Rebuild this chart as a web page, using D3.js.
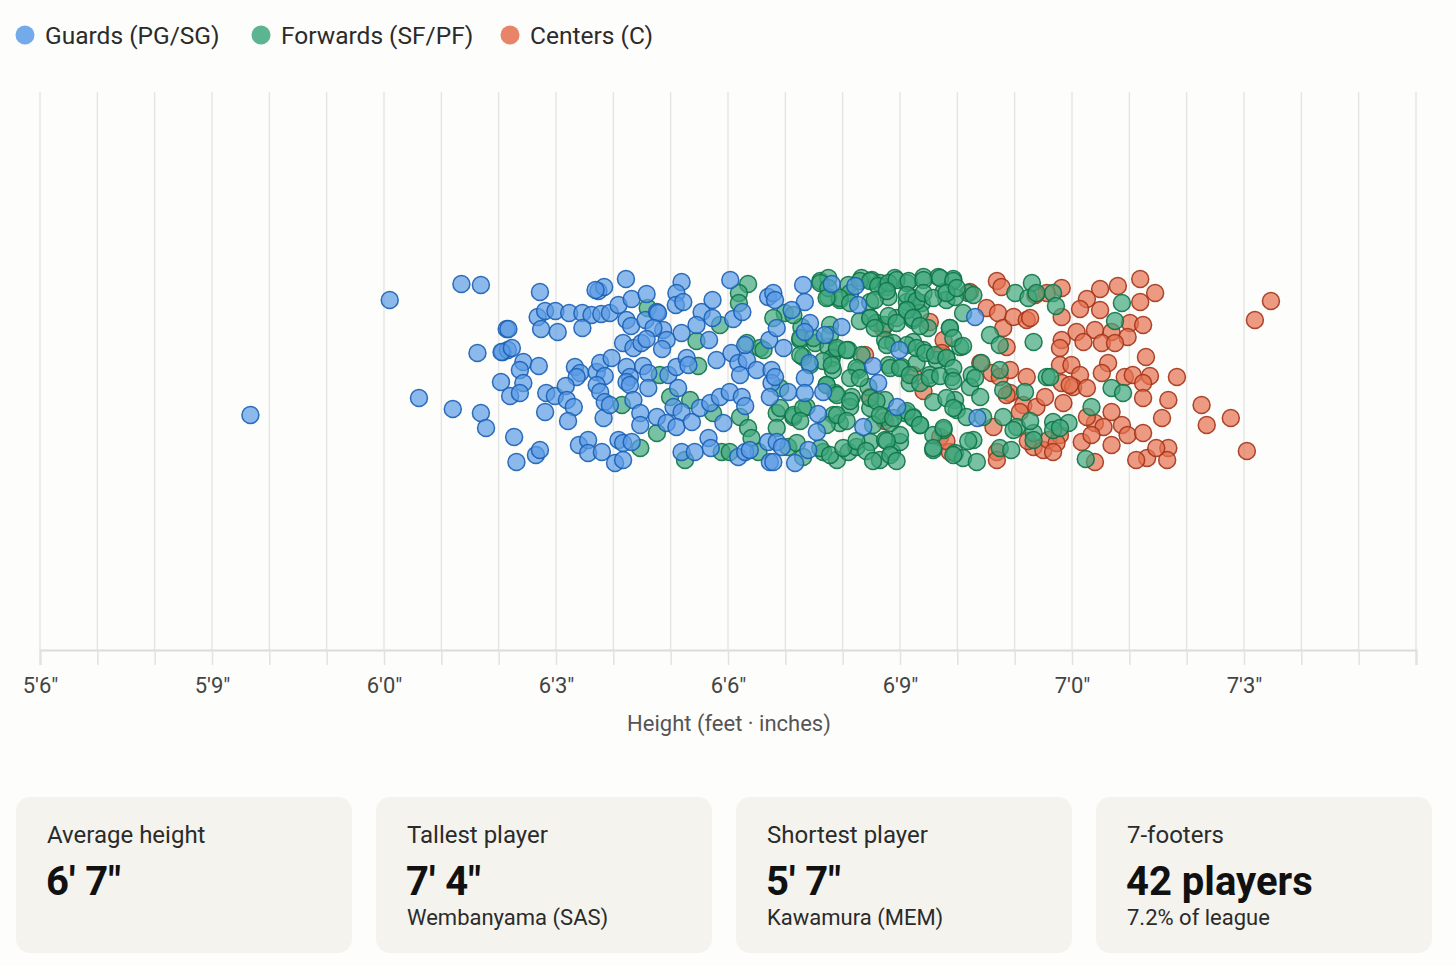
<!DOCTYPE html>
<html>
<head>
<meta charset="utf-8">
<script src="https://cdn.jsdelivr.net/npm/d3@7"></script>
<style>
  html, body { margin: 0; padding: 0; background: #fdfdfc; }
  svg { display: block; font-family: Roboto, "Noto Sans", sans-serif; }
</style>
</head>
<body>
<svg id="chart"></svg>
<script>
// heights in inches, jitter in [-1, 1]
var guards = [
  [69.67,-0.45],[72.10,0.70],[73.35,0.86],[73.69,0.85],[74.14,0.41],[73.63,0.17],[74.07,0.18],[74.16,0.20],
  [74.04,-0.12],[74.20,-0.26],[72.61,-0.28],[73.20,-0.39],[73.69,-0.43],[73.78,-0.58],[74.27,-0.67],[74.31,-0.92],
  [74.72,0.78],[76.22,0.91],[75.74,0.79],[75.84,0.83],[75.69,0.80],[77.19,0.88],[77.10,0.77],[78.04,0.90],
  [74.17,0.41],[74.68,0.53],[74.81,0.59],[74.99,0.59],[75.23,0.57],[75.46,0.57],[75.62,0.55],[75.79,0.56],
  [75.94,0.57],[76.09,0.65],[76.32,0.71],[76.58,0.76],[74.74,0.41],[75.03,0.38],[75.46,0.42],[76.23,0.50],
  [76.31,0.44],[76.56,0.50],[76.76,0.58],[76.78,0.57],[77.09,0.65],[77.22,0.68],[77.54,0.58],[77.73,0.70],
  [77.73,0.52],[78.09,0.51],[78.25,0.58],[78.70,0.73],[78.79,0.77],[77.45,0.45],[77.19,0.37],[76.87,0.40],
  [76.93,0.30],[76.70,0.42],[77.67,0.30],[76.17,0.27],[76.35,0.22],[76.49,0.27],[76.58,0.31],[76.85,0.21],
  [74.05,0.18],[74.23,0.22],[74.43,0.08],[74.37,0.00],[74.70,0.04],[75.33,0.03],[75.42,-0.03],[75.36,-0.07],
  [75.71,-0.02],[75.77,0.07],[75.97,0.12],[75.85,-0.06],[76.23,0.03],[76.29,-0.07],[76.52,0.04],[76.61,-0.03],
  [76.96,-0.05],[77.10,0.03],[77.28,0.12],[77.31,0.05],[77.80,0.10],[78.06,0.17],[78.18,0.07],[78.33,0.10],
  [78.50,0.00],[78.21,-0.05],[78.30,0.25],[78.72,0.30],[78.76,0.00],[78.76,-0.13],[78.73,-0.27],[74.43,-0.13],
  [74.37,-0.23],[74.83,-0.23],[74.98,-0.26],[75.17,-0.16],[75.19,-0.30],[75.31,-0.37],[75.21,-0.51],[74.81,-0.42],
  [75.71,-0.15],[75.77,-0.22],[75.85,-0.32],[75.83,-0.48],[75.94,-0.35],[76.23,-0.12],[76.29,-0.15],[76.35,-0.30],
  [76.47,-0.43],[76.47,-0.55],[76.61,-0.18],[76.76,-0.47],[77.13,-0.18],[77.05,-0.37],[77.19,-0.42],[76.93,-0.53],
  [77.10,-0.57],[77.37,-0.52],[77.51,-0.38],[77.69,-0.33],[77.86,-0.27],[77.92,-0.53],[78.03,-0.22],[78.24,-0.27],
  [78.30,-0.36],[74.65,-0.85],[74.72,-0.80],[75.40,-0.75],[75.56,-0.70],[75.56,-0.83],[75.80,-0.82],[76.03,-0.93],
  [76.09,-0.70],[76.17,-0.73],[76.17,-0.90],[76.32,-0.72],[77.19,-0.82],[77.42,-0.82],[77.66,-0.68],[77.70,-0.78],
  [78.18,-0.87],[78.30,-0.82],[78.38,-0.80],[78.73,-0.92],[78.70,-0.72],[78.85,-0.72],[78.82,0.70],[79.31,0.85],
  [79.34,0.68],[79.81,0.86],[80.22,0.84],[80.27,0.65],[79.11,0.60],[78.85,0.42],[78.97,0.22],[79.43,0.47],
  [79.34,0.38],[79.69,0.35],[79.98,0.43],[80.99,0.20],[79.42,0.07],[79.34,-0.08],[80.53,0.04],[80.62,-0.13],
  [78.82,-0.07],[79.05,-0.22],[79.34,-0.23],[79.66,-0.22],[82.31,0.53],[80.95,-0.37],[80.36,-0.57],[79.57,-0.44],
  [79.55,-0.62],[79.40,-0.80],[79.17,-0.93],[78.94,-0.77],[78.79,-0.92],[82.35,-0.48]
];

var forwards = [
  [78.35,0.86],[78.19,0.77],[78.19,0.67],[77.86,0.45],[76.60,0.62],[77.45,0.29],[78.33,0.27],[78.56,0.22],
  [76.81,-0.05],[77.48,0.04],[76.15,-0.35],[76.76,-0.63],[76.99,-0.27],[77.34,-0.30],[77.74,-0.43],[78.21,-0.47],
  [78.35,-0.58],[78.41,-0.68],[76.47,-0.78],[77.25,-0.90],[77.89,-0.82],[78.03,-0.82],[78.53,-0.82],
  [79.61,0.89],[79.75,0.92],[80.10,0.85],[80.33,0.92],[80.51,0.90],[80.65,0.87],[80.77,0.83],[80.91,0.92],
  [81.12,0.87],[81.41,0.93],[81.67,0.93],[81.93,0.91],[82.19,0.77],[83.01,0.77],[83.30,0.87],[83.24,0.72],
  [83.38,0.77],[79.75,0.73],[79.95,0.70],[80.13,0.77],[80.48,0.68],[80.80,0.73],[81.12,0.68],[81.23,0.72],
  [81.38,0.67],[81.76,0.78],[81.81,0.70],[81.96,0.73],[82.10,0.57],[78.99,0.57],[79.28,0.43],[79.78,0.45],
  [80.48,0.52],[80.59,0.47],[80.74,0.45],[80.94,0.52],[81.12,0.60],[81.23,0.50],[81.35,0.57],[81.49,0.42],
  [81.87,0.42],[79.26,0.30],[79.52,0.27],[79.75,0.23],[79.90,0.20],[80.10,0.20],[80.74,0.30],[80.88,0.27],
  [81.23,0.28],[81.41,0.20],[81.64,0.10],[81.81,0.12],[82.05,0.23],[82.57,0.35],[82.74,0.25],[83.33,0.28],
  [79.31,0.13],[79.81,0.12],[79.83,0.00],[80.33,0.15],[80.27,0.00],[80.80,0.05],[81.03,0.03],[81.29,0.07],
  [81.52,-0.05],[81.90,-0.07],[82.25,-0.05],[82.42,0.07],[82.74,0.00],[78.91,-0.18],[79.72,-0.15],[79.87,-0.23],
  [80.16,-0.27],[80.45,-0.17],[80.74,-0.30],[81.17,-0.13],[81.58,-0.32],[81.96,-0.30],[82.22,-0.17],[82.40,-0.27],
  [82.80,-0.20],[83.18,-0.22],[83.56,-0.07],[78.85,-0.43],[79.14,-0.47],[79.37,-0.37],[79.84,-0.45],[79.95,-0.53],
  [80.13,-0.37],[80.48,-0.38],[80.71,-0.47],[80.83,-0.53],[81.09,-0.43],[81.23,-0.47],[81.35,-0.55],[81.76,-0.60],
  [81.99,-0.40],[82.16,-0.47],[82.45,-0.47],[82.80,-0.47],[83.04,-0.57],[83.33,-0.63],[79.05,-0.77],[79.20,-0.73],
  [79.31,-0.87],[79.66,-0.82],[79.90,-0.90],[80.10,-0.82],[80.24,-0.77],[80.48,-0.72],[80.74,-0.70],[80.86,-0.82],
  [80.65,-0.90],[81.00,-0.72],[81.58,-0.80],[81.96,-0.83],[82.10,-0.88],[82.28,-0.70],[82.34,-0.92],[82.74,-0.78],
  [82.94,-0.80],[83.33,-0.70],[83.67,0.77],[83.72,0.64],[84.87,0.67],[84.75,0.49],[83.62,-0.07],[84.69,-0.18],
  [84.89,-0.23],[84.34,-0.37],[83.67,-0.52],[83.94,-0.53],[83.67,-0.60],[84.24,-0.89],
  [79.61,0.87],[79.75,0.82],[79.95,0.72],[80.30,0.89],[80.48,0.89],[80.62,0.84],[80.80,0.87],[80.94,0.90],
  [81.15,0.89],[81.41,0.90],[81.70,0.92],[81.93,0.89],[79.72,0.72],[80.13,0.67],[80.56,0.70],[80.77,0.79],
  [81.12,0.75],[81.29,0.69],[81.41,0.77],[81.58,0.72],[81.81,0.77],[81.99,0.82],[78.79,0.52],[79.14,0.55],
  [79.26,0.32],[79.49,0.32],[79.78,0.35],[79.90,0.22],[80.07,0.20],[80.30,0.49],[80.48,0.52],[80.56,0.42],
  [80.80,0.54],[80.94,0.47],[81.12,0.60],[81.23,0.52],[81.35,0.44],[81.87,0.42],[81.93,0.32],[78.62,0.20],
  [79.26,0.15],[79.43,0.05],[79.66,0.09],[79.81,0.05],[80.24,0.02],[80.77,0.25],[81.12,0.25],[81.29,0.22],
  [81.44,0.17],[81.61,0.15],[81.81,0.12],[80.13,-0.08],[80.30,-0.08],[80.83,0.02],[81.00,0.02],[81.17,-0.05],
  [81.35,-0.13],[81.52,-0.08],[81.70,-0.06],[81.93,0.02],[81.93,-0.11],[78.91,-0.38],[79.14,-0.45],[79.31,-0.38],
  [79.72,-0.15],[79.90,-0.25],[80.13,-0.31],[80.48,-0.28],[80.59,-0.31],[81.12,-0.41],[81.23,-0.48],[81.35,-0.55],
  [81.81,-0.28],[81.93,-0.38],[78.85,-0.58],[79.26,-0.51],[79.72,-0.55],[79.90,-0.45],[80.07,-0.51],[80.53,-0.55],
  [80.65,-0.45],[80.88,-0.48],[81.00,-0.65],[81.58,-0.65],[81.76,-0.58],[79.61,-0.78],[79.78,-0.85],[80.01,-0.78],
  [80.24,-0.71],[80.41,-0.81],[80.53,-0.91],[80.77,-0.71],[80.83,-0.85],[80.94,-0.91],[81.58,-0.78],[81.93,-0.85],
  [82.28,0.75],[82.10,0.24],[82.31,-0.08],[83.27,-0.51],[83.79,-0.58],[82.98,-0.60],[82.19,-0.71]
];

var centers = [
  [81.52,0.48],[81.76,0.30],[80.48,-0.27],[80.39,0.15],[81.23,-0.05],[81.70,-0.67],[81.87,-0.82],[82.22,0.78],
  [82.69,0.89],[82.77,0.83],[82.51,0.62],[82.71,0.57],[82.80,0.42],[82.98,0.53],[83.21,0.50],[82.86,0.23],
  [82.40,0.07],[82.60,-0.03],[82.74,-0.07],[82.92,0.00],[83.21,-0.07],[82.92,-0.23],[83.15,-0.35],[83.09,-0.42],
  [83.38,-0.37],[83.53,-0.27],[82.63,-0.57],[82.69,-0.82],[82.69,-0.90],[83.33,-0.77],[83.50,-0.80],[83.59,-0.70],
  [83.82,0.82],[83.56,0.77],[84.49,0.81],[84.80,0.84],[85.19,0.91],[85.45,0.77],[85.19,0.68],[84.26,0.71],
  [84.14,0.61],[84.49,0.60],[83.82,0.53],[85.01,0.47],[85.24,0.45],[84.69,0.38],[84.40,0.40],[84.08,0.38],
  [84.97,0.33],[84.20,0.28],[84.52,0.27],[84.75,0.27],[83.82,0.30],[83.79,0.22],[85.29,0.13],[83.79,0.05],
  [83.99,0.05],[84.14,-0.05],[84.63,0.07],[84.52,-0.03],[84.92,-0.07],[85.06,-0.05],[85.36,-0.06],[85.83,-0.07],
  [83.82,-0.13],[84.02,-0.17],[84.26,-0.18],[85.24,-0.13],[83.85,-0.33],[85.24,-0.28],[85.68,-0.30],[86.26,-0.35],
  [86.35,-0.55],[86.77,-0.48],[84.69,-0.42],[84.40,-0.53],[84.26,-0.47],[84.55,-0.57],[84.87,-0.55],[85.57,-0.48],
  [84.97,-0.65],[85.24,-0.63],[83.79,-0.65],[83.73,-0.73],[83.67,-0.82],[84.17,-0.72],[84.34,-0.65],[84.69,-0.75],
  [85.68,-0.78],[85.31,-0.88],[85.66,-0.90],[84.40,-0.92],[87.05,-0.81],[87.47,0.69],[87.19,0.50],
  [83.36,0.75],[83.27,0.52],[83.96,-0.15],[83.23,-0.71],[85.12,-0.90],[85.47,-0.78],[80.70,0.42],[81.73,0.17],
  [81.41,-0.21],[80.74,-0.51],[81.81,-0.71],[82.86,-0.25]
];

var groupNames = ["Guards (PG/SG)", "Forwards (SF/PF)", "Centers (C)"];
var groupFill = ["#5b9be6", "#3fa77c", "#e4704f"];
var groupStroke = ["#1a5fb4", "#0d7347", "#a3341a"];

var labelTicks = [66, 69, 72, 75, 78, 81, 84, 87];
var axisTitle = "Height (feet · inches)";

var cardTitles = ["Average height", "Tallest player", "Shortest player", "7-footers"];
var cardValues = ["6′ 7″", "7′ 4″", "5′ 7″", "42 players"];
var cardNotes = ["", "Wembanyama (SAS)", "Kawamura (MEM)", "7.2% of league"];

var width = 1456, height = 965;
var svg = d3.select("#chart").attr("width", width).attr("height", height);

var x = d3.scaleLinear().domain([66, 90]).range([40, 1416]);
var y = d3.scaleLinear().domain([-1, 1]).range([470, 270]);
var plotTop = 92, plotBottom = 650;

// legend
var legendX = [25, 261, 510];
var legend = svg.selectAll(".legend").data(groupNames).enter().append("g")
  .attr("transform", function (d, i) { return "translate(" + legendX[i] + ",35)"; });
legend.append("circle").attr("r", 9.5).style("fill", function (d, i) { return groupFill[i]; }).style("opacity", 0.85);
legend.append("text").attr("x", 20).attr("dy", "0.35em")
  .style("font-size", "24.5px").style("fill", "#2b2b2b").text(function (d) { return d; });

// grid
svg.append("g").selectAll("line").data(d3.range(66, 91)).enter().append("line")
  .attr("x1", function (d) { return x(d); }).attr("x2", function (d) { return x(d); })
  .attr("y1", plotTop).attr("y2", plotBottom)
  .style("stroke", "#e6e6e4").style("stroke-width", 1.5);

// axis
var xAxis = d3.axisBottom(x).tickValues(d3.range(66, 91)).tickSize(15).tickPadding(12)
  .tickFormat(function (d) { return labelTicks.indexOf(d) >= 0 ? Math.floor(d / 12) + "'" + (d % 12) + '"' : ""; });
var ax = svg.append("g").attr("transform", "translate(0," + plotBottom + ")").call(xAxis);
ax.select(".domain").style("stroke", "#dcdcda").style("stroke-width", 2);
ax.selectAll(".tick line").style("stroke", "#e2e2e0").style("stroke-width", 1.5);
ax.selectAll(".tick text").style("font-size", "22px").style("fill", "#444").style("font-family", "Roboto, sans-serif");

svg.append("text").attr("x", 729).attr("y", 731).attr("text-anchor", "middle")
  .style("font-size", "22px").style("fill", "#555").text(axisTitle);

// points: centers first, guards on top
var groups = [guards, forwards, centers];
[2, 1, 0].forEach(function (g) {
  svg.append("g").selectAll("circle").data(groups[g]).enter().append("circle")
    .attr("cx", function (d) { return x(d[0]); })
    .attr("cy", function (d) { return y(d[1]); })
    .attr("r", 8.5)
    .style("fill", groupFill[g]).style("fill-opacity", 0.7)
    .style("stroke", groupStroke[g]).style("stroke-width", 1.5).style("stroke-opacity", 0.9);
});

// stat cards
var cardW = 336, cardGap = 24;
var cards = svg.selectAll(".card").data(cardTitles).enter().append("g")
  .attr("transform", function (d, i) { return "translate(" + (16 + i * (cardW + cardGap)) + ",797)"; });
cards.append("rect").attr("width", cardW).attr("height", 156).attr("rx", 14)
  .style("fill", "#f4f3ee");
cards.append("text").attr("x", 31).attr("y", 46).style("font-size", "24px").style("fill", "#2b2b2b")
  .text(function (d) { return d; });
cards.append("text").attr("x", 30).attr("y", 98).style("font-size", "40px").style("font-weight", 700)
  .style("fill", "#111").text(function (d, i) { return cardValues[i]; });
cards.append("text").attr("x", 31).attr("y", 128).style("font-size", "22px").style("fill", "#2b2b2b")
  .text(function (d, i) { return cardNotes[i]; });
</script>
</body>
</html>
